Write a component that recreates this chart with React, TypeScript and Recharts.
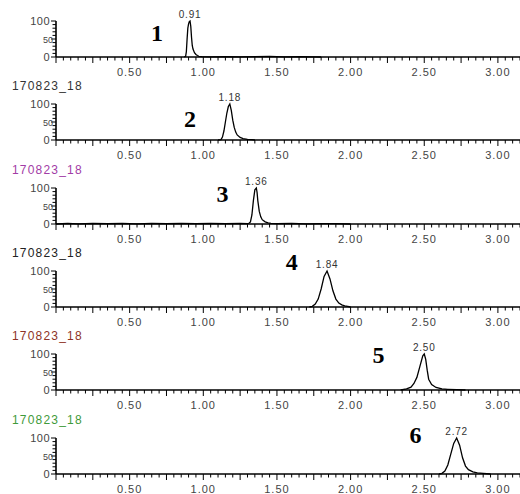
import React from "react";
import { LineChart, Line, XAxis, YAxis, ReferenceDot } from "recharts";

// retention time (min) / relative intensity (%) for each trace
const p1Time = [0.87, 0.88, 0.885, 0.89, 0.895, 0.9, 0.905, 0.91, 0.915, 0.92, 0.925, 0.93, 0.94, 0.95, 0.96, 0.97, 0.99, 1.05, 1.15, 1.25, 1.35, 1.45, 1.55, 1.65, 1.75, 1.8];
const p1Int = [0, 2, 15, 50, 80, 92, 98, 100, 85, 55, 32, 22, 12, 7, 4, 2, 1, 0.5, 1, 0.5, 1, 1.5, 0.5, 1, 0.5, 0];

const p2Time = [1.1, 1.12, 1.13, 1.14, 1.15, 1.16, 1.17, 1.18, 1.19, 1.2, 1.21, 1.22, 1.23, 1.25, 1.27, 1.3, 1.33, 1.35];
const p2Int = [0, 1, 8, 25, 50, 75, 93, 100, 82, 55, 35, 22, 14, 7, 4, 2, 1, 0];

const p3Time = [0, 0.08, 0.15, 0.25, 0.35, 0.45, 0.55, 0.65, 0.75, 0.85, 0.95, 1.05, 1.15, 1.25, 1.3, 1.31, 1.32, 1.33, 1.34, 1.35, 1.36, 1.365, 1.37, 1.38, 1.39, 1.4, 1.42, 1.44, 1.46, 1.5, 1.6, 1.7, 1.8, 1.9, 2.0];
const p3Int = [0, 1.5, 0.5, 2, 1, 1.5, 0.5, 2, 1, 1.5, 1, 2, 1, 1.5, 1, 2, 6, 25, 65, 95, 100, 88, 65, 35, 20, 12, 6, 3, 2, 1, 1.5, 0.5, 1, 1, 0];

const p4Time = [1.72, 1.74, 1.76, 1.78, 1.8, 1.82, 1.84, 1.86, 1.88, 1.9, 1.92, 1.94, 1.96, 1.98, 2.0];
const p4Int = [0, 2, 8, 22, 50, 85, 100, 78, 45, 22, 11, 6, 3, 2, 0];

const p5Time = [2.34, 2.38, 2.41, 2.43, 2.45, 2.47, 2.49, 2.5, 2.51, 2.52, 2.53, 2.55, 2.58, 2.62, 2.66, 2.72, 2.78];
const p5Int = [0, 3, 8, 18, 35, 65, 95, 100, 85, 55, 30, 15, 7, 3, 2, 1, 0];

const p6Time = [2.6, 2.62, 2.64, 2.66, 2.68, 2.7, 2.72, 2.74, 2.76, 2.78, 2.8, 2.83, 2.86, 2.9, 2.95];
const p6Int = [0, 2, 8, 25, 55, 85, 100, 80, 45, 22, 12, 6, 3, 1.5, 0];

const traceTimes = [p1Time, p2Time, p3Time, p4Time, p5Time, p6Time];
const traceInts = [p1Int, p2Int, p3Int, p4Int, p5Int, p6Int];

const peakRT = [0.91, 1.18, 1.36, 1.84, 2.5, 2.72];
const peakLabels = ["0.91", "1.18", "1.36", "1.84", "2.50", "2.72"];
const compoundNumbers = ["1", "2", "3", "4", "5", "6"];
const traceTitles = [null, "170823_18", "170823_18", "170823_18", "170823_18", "170823_18"];

const xLabels = ["0.50", "1.00", "1.50", "2.00", "2.50", "3.00"];
const yLabels = ["0", "50", "100"];

// layout / style
const titleColors = ["#000", "#333", "#a23ca6", "#222", "#8e3326", "#3f9a3a"];
const numberPos = [
  [0.686, 68],
  [0.91, 60],
  [1.13, 86],
  [1.6, 126],
  [2.19, 99],
  [2.44, 111],
];
const PANEL_STEP = 83.3;
const SANS = "'Liberation Sans', Arial, sans-serif";

const xTicks = Array.from({ length: 64 }, (_, k) => +(k * 0.05).toFixed(2));
const yTicks = Array.from({ length: 11 }, (_, k) => k * 10);

const XTick = (props: any) => {
  const { x, y, payload } = props;
  const v = payload.value as number;
  const q = v / 0.25;
  const major = Math.abs(q - Math.round(q)) < 1e-6;
  const label = xLabels.find((l) => Math.abs(parseFloat(l) - v) < 1e-6);
  return (
    <g>
      <line x1={x} x2={x} y1={y} y2={y + (major ? 6 : 3.5)} stroke="#000" strokeWidth={1} />
      {label && (
        <text x={x} y={y + 19} textAnchor="middle" fontSize={11} letterSpacing={1} fill="#444" fontFamily={SANS}>
          {label}
        </text>
      )}
    </g>
  );
};

const YTick = (props: any) => {
  const { x, y, payload } = props;
  const v = payload.value as number;
  const label = yLabels.find((l) => parseFloat(l) === v);
  return (
    <g>
      <line x1={x - (label ? 5 : 3.5)} x2={x} y1={y} y2={y} stroke="#000" strokeWidth={1} />
      {label && (
        <text
          x={label === "50" ? x - 3 : x - 6}
          y={y + 4}
          textAnchor="end"
          fontSize={label === "50" ? 9 : 11}
          letterSpacing={label === "50" ? 0 : 0.5}
          fill="#444"
          fontFamily={SANS}
        >
          {label}
        </text>
      )}
    </g>
  );
};

const Trace = ({ i }: { i: number }) => {
  const data = traceTimes[i].map((t, k) => ({ t, v: traceInts[i][k] }));
  return (
    <div style={{ position: "absolute", left: 0, top: Math.round(i * PANEL_STEP), width: 520, height: 84 }}>
      {traceTitles[i] && (
        <div
          style={{
            position: "absolute",
            left: 12,
            top: -4,
            fontFamily: SANS,
            fontSize: 12,
            letterSpacing: 1.2,
            lineHeight: "14px",
            color: titleColors[i],
          }}
        >
          {traceTitles[i]}
        </div>
      )}
      <LineChart width={520} height={83} data={data} margin={{ top: 21, right: 0, bottom: 0, left: 0 }}>
        <XAxis
          dataKey="t"
          type="number"
          domain={[0, 3.15]}
          ticks={xTicks}
          interval={0}
          tickSize={0}
          tickMargin={0}
          tickLine={false}
          tick={<XTick />}
          height={26}
          axisLine={{ stroke: "#000", strokeWidth: 1.6 }}
          allowDataOverflow
        />
        <YAxis
          type="number"
          domain={[0, 100]}
          ticks={yTicks}
          interval={0}
          tickSize={0}
          tickMargin={0}
          tickLine={false}
          tick={<YTick />}
          width={56}
          axisLine={{ stroke: "#000", strokeWidth: 1.6 }}
        />
        <Line
          type="linear"
          dataKey="v"
          stroke="#000"
          strokeWidth={1.3}
          dot={false}
          isAnimationActive={false}
        />
        <ReferenceDot
          x={peakRT[i]}
          y={100}
          r={0}
          ifOverflow="visible"
          label={{ value: peakLabels[i], position: "top", offset: 3, fontSize: 10, fill: "#333", fontFamily: SANS, letterSpacing: 0.8 }}
        />
        <ReferenceDot
          x={numberPos[i][0]}
          y={numberPos[i][1]}
          r={0}
          ifOverflow="visible"
          label={{
            value: compoundNumbers[i],
            position: "center",
            fontSize: 24,
            fontWeight: 700,
            fill: "#000",
            fontFamily: "'Liberation Serif', 'Times New Roman', serif",
          }}
        />
      </LineChart>
    </div>
  );
};

export default function App() {
  return (
    <div style={{ position: "absolute", left: 0, top: 0, width: 520, height: 494, background: "#fff", overflow: "hidden" }}>
      {compoundNumbers.map((_, i) => (
        <Trace key={i} i={i} />
      ))}
    </div>
  );
}
